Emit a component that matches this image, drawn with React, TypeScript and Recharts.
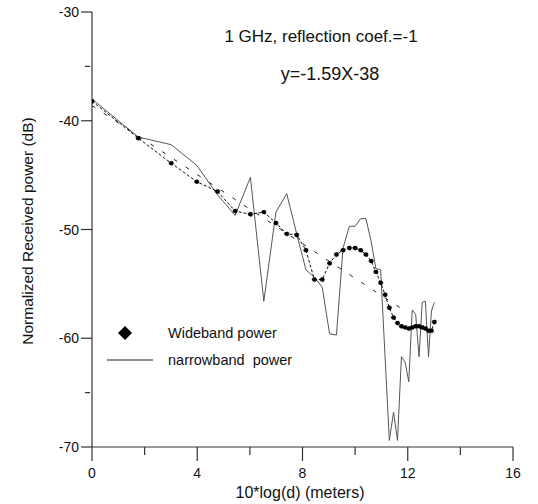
import React from 'react';
import { LineChart, Line, XAxis, YAxis } from 'recharts';

// 10*log(d) positions of the measurement points
const distanceDb = [0, 1.76, 3.01, 3.98, 4.77, 5.44, 6.02, 6.53, 6.99, 7.4, 7.78, 8.13, 8.45, 8.75, 9.03, 9.29, 9.54, 9.78, 10.0, 10.21, 10.41, 10.61, 10.79, 10.97, 11.14, 11.3, 11.46, 11.61, 11.76, 11.9, 12.04, 12.17, 12.3, 12.43, 12.55, 12.67, 12.79, 12.9, 13.01];
// Wideband received power (dB)
const widebandPower = [-38.2, -41.6, -43.9, -45.6, -46.5, -48.3, -48.6, -48.4, -49.4, -50.4, -50.5, -51.9, -54.6, -54.6, -53.1, -52.3, -51.9, -51.7, -51.7, -51.9, -52.3, -52.9, -53.9, -54.9, -56.0, -57.2, -58.1, -58.6, -58.9, -59.0, -59.1, -59.0, -58.9, -58.9, -59.0, -59.1, -59.3, -59.3, -58.5];
// Narrowband received power (dB)
const narrowbandPower = [-38.0, -41.5, -42.2, -44.1, -46.8, -48.7, -45.2, -56.6, -48.4, -46.7, -50.4, -53.7, -54.4, -55.3, -59.6, -59.7, -51.7, -49.7, -49.7, -49.0, -49.0, -51.1, -53.6, -53.7, -61.8, -69.4, -66.8, -69.4, -61.7, -62.2, -64.0, -57.4, -57.8, -61.7, -56.7, -56.6, -61.7, -57.5, -56.7];
// Regression line end points (y=-1.59X-38)
const fitX = [0, 11.9];
const fitY = [-38.6, -57.5];

const xTicks = [0, 2, 4, 6, 8, 10, 12, 14, 16];
const xLabelTicks = [0, 4, 8, 12, 16];
const yTicks = [-70, -65, -60, -50, -40, -35, -30];
const yLabelTicks = [-70, -60, -50, -40, -30];

const titleLine1 = '1 GHz, reflection coef.=-1';
const titleLine2 = 'y=-1.59X-38';
const xTitle = '10*log(d) (meters)';
const yTitle = 'Normalized Received power (dB)';
const legendWide = 'Wideband power';
const legendNarrow = 'narrowband  power';

const widebandData = distanceDb.map((x, i) => ({ x, y: widebandPower[i] }));
const narrowbandData = distanceDb.map((x, i) => ({ x, y: narrowbandPower[i] }));
const fitData = fitX.map((x, i) => ({ x, y: fitY[i] }));

const FONT = '"Liberation Sans", Arial, Helvetica, sans-serif';
const AXIS = '#333';

const XTick = (props: any) => {
  const { x, y, payload } = props;
  const v = payload.value;
  const major = xLabelTicks.includes(v);
  const len = major ? 14 : 8;
  return (
    <g>
      <line x1={x} y1={y} x2={x} y2={y + len} stroke={AXIS} strokeWidth={1.2} />
      {major && (
        <text x={x} y={y + 26} textAnchor="middle" dominantBaseline="central" fontSize={14} fontFamily={FONT} fill="#111">
          {v}
        </text>
      )}
    </g>
  );
};

const YTick = (props: any) => {
  const { x, y, payload } = props;
  const v = payload.value;
  const major = yLabelTicks.includes(v);
  return (
    <g>
      {major ? (
        <line x1={x - 11} y1={y} x2={x} y2={y} stroke={AXIS} strokeWidth={1.2} />
      ) : (
        <line x1={x - 7} y1={y} x2={x - 2} y2={y} stroke={AXIS} strokeWidth={1.2} />
      )}
      {major && (
        <text x={x - 13} y={y} textAnchor="end" dominantBaseline="central" fontSize={14} fontFamily={FONT} fill="#111">
          {v}
        </text>
      )}
    </g>
  );
};

export default function App() {
  return (
    <div style={{ position: 'absolute', left: 0, top: 0, width: 538, height: 504, background: '#fff' }}>
      <LineChart width={538} height={504} margin={{ top: 12, right: 25, bottom: 0, left: 0 }}>
        <XAxis
          dataKey="x"
          type="number"
          domain={[0, 16]}
          ticks={xTicks}
          height={57}
          tickSize={0}
          tickMargin={0}
          tickLine={false}
          tick={<XTick />}
          axisLine={{ stroke: AXIS, strokeWidth: 1.2 }}
          allowDataOverflow
          interval={0}
        />
        <XAxis xAxisId="top" orientation="top" type="number" domain={[0, 16]} height={0} tick={false} tickLine={false} axisLine={{ stroke: AXIS, strokeWidth: 1.2 }} />
        <YAxis
          dataKey="y"
          type="number"
          domain={[-70, -30]}
          ticks={yTicks}
          width={92}
          tickSize={0}
          tickMargin={0}
          tickLine={false}
          tick={<YTick />}
          axisLine={{ stroke: AXIS, strokeWidth: 1.2 }}
          allowDataOverflow
          interval={0}
        />
        <YAxis yAxisId="right" orientation="right" type="number" domain={[-70, -30]} width={0} tick={false} tickLine={false} axisLine={{ stroke: AXIS, strokeWidth: 1.2 }} />
        <Line data={fitData} dataKey="y" type="linear" stroke="#222" strokeWidth={1} strokeDasharray="4 10" dot={false} isAnimationActive={false} />
        <Line data={narrowbandData} dataKey="y" type="linear" stroke="#555" strokeWidth={1} dot={false} isAnimationActive={false} />
        <Line
          data={widebandData}
          dataKey="y"
          type="linear"
          stroke="#111"
          strokeWidth={1}
          strokeDasharray="3 2"
          dot={{ r: 2.2, fill: '#000', stroke: '#000', strokeWidth: 0.5 }}
          isAnimationActive={false}
        />
      </LineChart>
      <svg width={538} height={504} style={{ position: 'absolute', left: 0, top: 0, pointerEvents: 'none' }}>
        <text x={321} y={36} textAnchor="middle" dominantBaseline="central" fontSize={17} fontFamily={FONT} fill="#111">{titleLine1}</text>
        <text x={330} y={74} textAnchor="middle" dominantBaseline="central" fontSize={18} fontFamily={FONT} fill="#111">{titleLine2}</text>
        <text x={300} y={492} textAnchor="middle" dominantBaseline="central" fontSize={16} fontFamily={FONT} fill="#111">{xTitle}</text>
        <text x={27} y={231} textAnchor="middle" dominantBaseline="central" fontSize={15.5} fontFamily={FONT} fill="#111" transform="rotate(-90 27 231)">{yTitle}</text>
        <path d="M125 326 L132 333 L125 340 L118 333 Z" fill="#000" />
        <text x={168} y={333} dominantBaseline="central" fontSize={14.5} fontFamily={FONT} fill="#111">{legendWide}</text>
        <line x1={107} y1={360} x2={153} y2={360} stroke="#222" strokeWidth={1.2} />
        <text x={168} y={360} dominantBaseline="central" fontSize={14.5} fontFamily={FONT} fill="#111" style={{ whiteSpace: 'pre' }}>{legendNarrow}</text>
      </svg>
    </div>
  );
}
